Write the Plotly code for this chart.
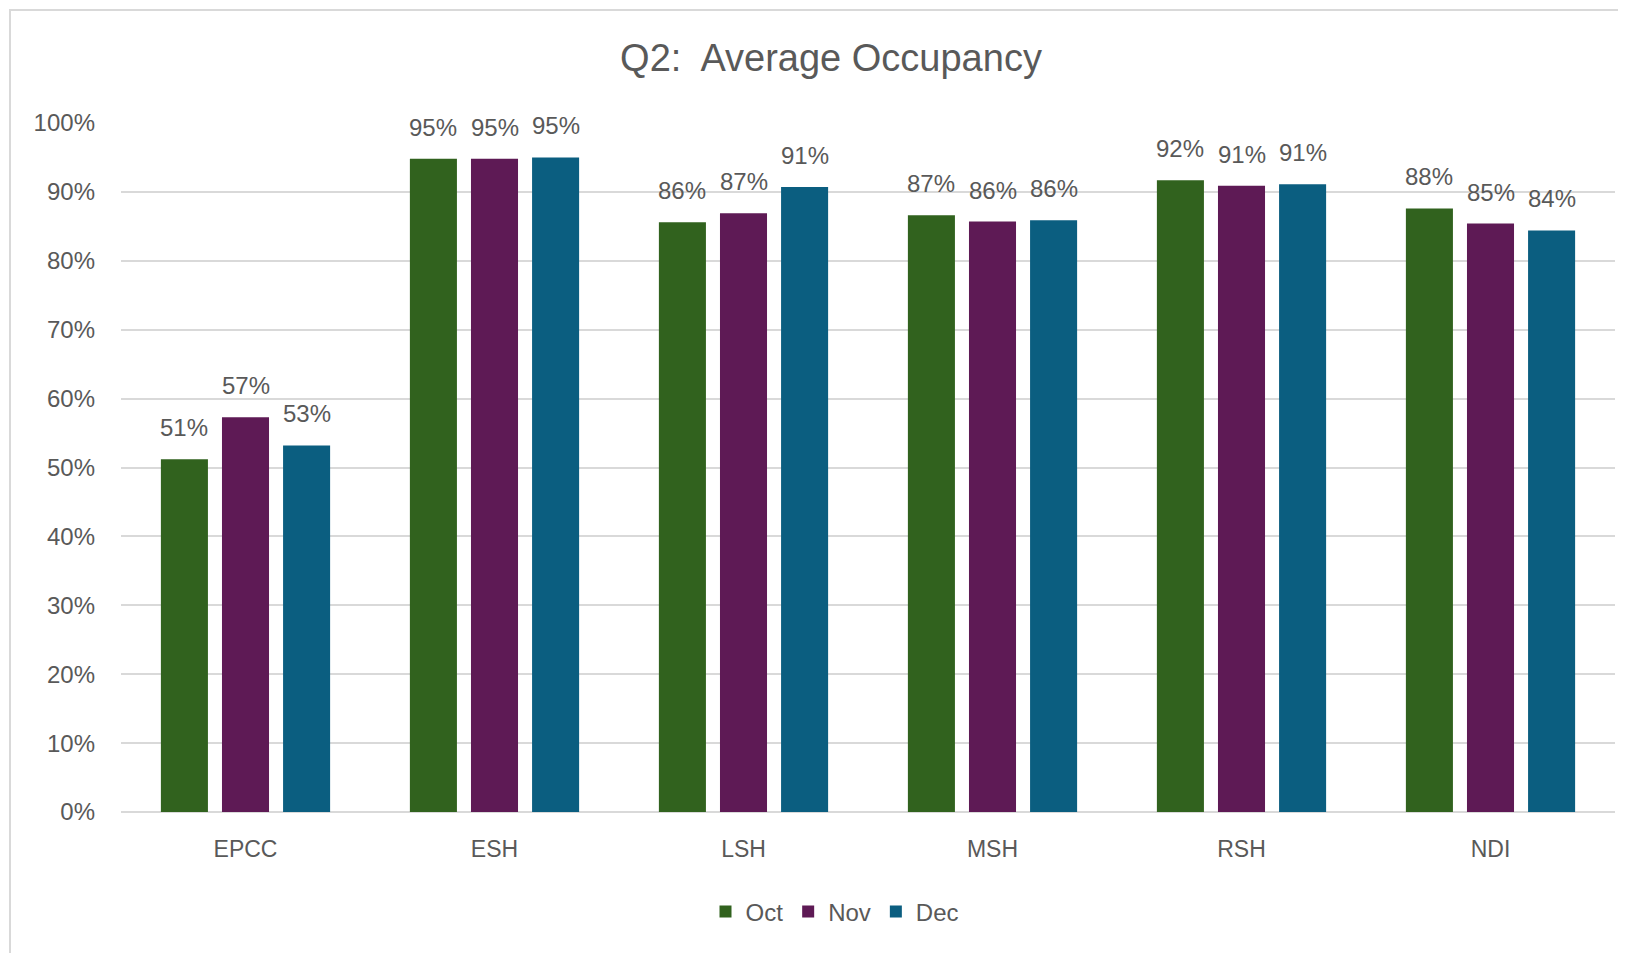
import plotly.graph_objects as go

categories = ["EPCC", "ESH", "LSH", "MSH", "RSH", "NDI"]
months = ["Oct", "Nov", "Dec"]
oct_vals = [0.512, 0.948, 0.856, 0.866, 0.917, 0.876]
nov_vals = [0.573, 0.948, 0.869, 0.857, 0.909, 0.854]
dec_vals = [0.532, 0.950, 0.907, 0.859, 0.911, 0.844]
colors = ["#31621E", "#5E1A55", "#0B5E80"]
y_ticks = [0, 0.1, 0.2, 0.3, 0.4, 0.5, 0.6, 0.7, 0.8, 0.9, 1.0]

series = [oct_vals, nov_vals, dec_vals]
TEXT = "#595959"
GRID = "#D9D9D9"
FONT = "Liberation Sans, Arial, sans-serif"
BARGAP = 0.264
GROUPGAP = 0.23

OFF = 8  # page body margin
W, H = 1626 - OFF, 953 - OFF
L, R, T, B = 121 - OFF, 11, 123 - OFF, 141
pw, ph = W - L - R, H - T - B

fig = go.Figure()
for name, vals, col in zip(months, series, colors):
    fig.add_trace(go.Bar(
        x=categories, y=vals, name=name,
        marker=dict(color=col, line=dict(width=0)),
        hoverinfo="skip",
    ))

# data labels above bars
slot = (1 - BARGAP) / len(months)
annotations = []
for j, vals in enumerate(series):
    for i, v in enumerate(vals):
        annotations.append(dict(
            x=i + (j - (len(months) - 1) / 2) * slot, y=v,
            xref="x", yref="y", text=f"{v:.0%}", showarrow=False,
            yanchor="bottom", yshift=16,
            font=dict(family=FONT, size=24, color=TEXT),
        ))

# screen pixel -> paper coords
def px_x(p):
    return (p - OFF - L) / pw

def px_y(p):
    return (H - B - (p - OFF)) / ph

fig.update_layout(
    width=W, height=H,
    margin=dict(l=L, r=R, t=T, b=B),
    paper_bgcolor="white", plot_bgcolor="white",
    barmode="group", bargap=BARGAP, bargroupgap=GROUPGAP,
    title=dict(text="Q2:  Average Occupancy", xref="container",
               x=(831 - OFF) / W, xanchor="center",
               y=1 - (58 - OFF) / H, yanchor="middle", yref="container",
               font=dict(family=FONT, size=38, color=TEXT)),
    font=dict(family=FONT, color=TEXT),
    showlegend=True,
    legend=dict(orientation="h", x=px_x(835), xanchor="center",
                y=px_y(912), yanchor="middle",
                font=dict(family=FONT, size=24, color=TEXT),
                itemwidth=30, tracegroupgap=0, itemclick=False),
    annotations=annotations,
    shapes=[dict(type="rect", xref="paper", yref="paper",
                 x0=px_x(10), x1=px_x(1700), y0=px_y(1100), y1=px_y(10),
                 line=dict(color=GRID, width=2), layer="below")],
)
fig.update_xaxes(showgrid=False, showline=False, ticks="",
                 tickfont=dict(family=FONT, size=23, color=TEXT),
                 ticklabelstandoff=21)
fig.update_yaxes(range=[0, 1], tickvals=y_ticks, tickformat=".0%",
                 showgrid=True, gridcolor=GRID, gridwidth=2,
                 zeroline=True, zerolinecolor=GRID, zerolinewidth=2,
                 showline=False, ticks="",
                 tickfont=dict(family=FONT, size=24, color=TEXT),
                 ticklabelstandoff=25)

fig.write_html("out.html")
